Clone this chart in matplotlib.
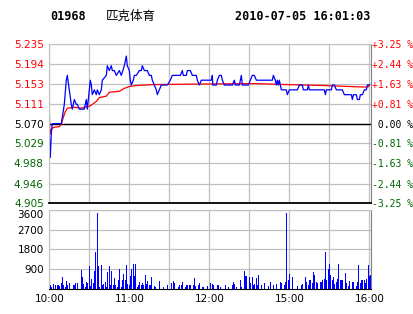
import matplotlib
matplotlib.use('Agg')
import matplotlib.pyplot as plt

# title info
code = '01968'
name = '匹克体育'
stamp = '2010-07-05 16:01:03'

# price axis: previous close 5.070, +/- 3.25 %
price_ticks = [4.905, 4.946, 4.988, 5.029, 5.070, 5.111, 5.153, 5.194, 5.235]
price_labels = ['4.905', '4.946', '4.988', '5.029', '5.070', '5.111', '5.153', '5.194', '5.235']
pct_labels = ['-3.25 %', '-2.44 %', '-1.63 %', '-0.81 %', ' 0.00 %', '+0.81 %', '+1.63 %', '+2.44 %', '+3.25 %']
prev_close = 5.070

# minutes since 10:00 (trading time only, lunch break removed)
time_ticks = [0, 60, 120, 180, 240]
time_labels = ['10:00', '11:00', '12:00', '15:00', '16:00']
grid_minutes = [0, 30, 60, 90, 120, 150, 180, 210, 240]

vol_ticks = [900, 1800, 2700, 3600]
vol_labels = ['900', '1800', '2700', '3600']

# price line (minute, price)
price_min = [0, 0.75, 1.5, 2.25, 9, 11.25, 12.75, 13.5, 15, 16.5, 17.25, 18.75, 20.25, 21, 22.5,
             26.25, 27.75, 28.5, 30.75, 31.5, 32.25, 33.75, 35.25, 36, 37.5, 39, 39.75, 42.75,
             43.5, 45, 46.5, 47.25, 48.75, 50.25, 52.5, 54, 56.25, 57.75, 58.5, 60, 60.75, 61.5,
             63, 63.75, 65.25, 67.5, 69, 69.75, 71.25, 72.75, 73.5, 75, 76.5, 77.25, 78.75, 80.25,
             81, 82.5, 84, 88.5, 90.75, 92.25, 93.75, 95.25, 96.75, 98.25, 99.75, 100.5, 102.75,
             103.5, 105.75, 107.25, 108.75, 110.25, 111, 112.5, 114, 121.5, 122.25, 122.6, 125.25,
             126, 127.5, 129, 129.75, 131.25, 137.25, 138.75, 139.5, 142.5, 144, 144.75, 149.25,
             150.75, 152.25, 153.75, 155.25, 167.25, 168, 169.5, 170.25, 171, 171.75, 172.5, 174,
             174.75, 177.75, 178.5, 180, 186, 187.5, 189, 189.75, 190.5, 193.5, 194.25, 195,
             206.25, 207, 207.75, 211.5, 212.25, 213.75, 215.25, 219.75, 221.25, 226.5, 227.25,
             228, 230.25, 231, 232.5, 233.25, 234.75, 236.25, 237.75, 238.5, 240]
price = [5.05, 5.00, 5.05, 5.07, 5.07, 5.11, 5.16, 5.17, 5.14, 5.11, 5.10, 5.12, 5.11, 5.11, 5.10,
         5.10, 5.12, 5.10, 5.16, 5.15, 5.13, 5.14, 5.13, 5.14, 5.13, 5.14, 5.16, 5.17,
         5.19, 5.18, 5.19, 5.18, 5.18, 5.17, 5.18, 5.17, 5.19, 5.21, 5.19, 5.18, 5.16, 5.15,
         5.16, 5.17, 5.17, 5.18, 5.18, 5.19, 5.18, 5.18, 5.18, 5.17, 5.17, 5.16, 5.15, 5.14,
         5.13, 5.14, 5.15, 5.15, 5.16, 5.17, 5.17, 5.17, 5.17, 5.17, 5.18, 5.17, 5.17,
         5.18, 5.18, 5.17, 5.17, 5.17, 5.16, 5.15, 5.16, 5.16, 5.17, 5.15, 5.15,
         5.16, 5.17, 5.17, 5.16, 5.15, 5.15, 5.16, 5.15, 5.15, 5.17, 5.15, 5.15,
         5.16, 5.17, 5.17, 5.16, 5.16, 5.17, 5.16, 5.15, 5.16, 5.15, 5.16, 5.14,
         5.14, 5.14, 5.13, 5.14, 5.14, 5.15, 5.15, 5.15, 5.14, 5.14, 5.15, 5.14,
         5.14, 5.13, 5.14, 5.14, 5.15, 5.15, 5.14, 5.14, 5.13, 5.13, 5.12,
         5.13, 5.13, 5.12, 5.12, 5.13, 5.13, 5.14, 5.14, 5.15, 5.15]

# average price line (minute, price)
avg_min = [0, 0.5, 1.5, 3, 7.5, 9, 10.5, 12, 13.5, 18.75, 24, 26.25, 30, 32.25, 35.25, 37.5,
           42.75, 45, 52.5, 56.25, 60, 65.25, 78.75, 112, 154, 177, 206, 234, 239, 240]
avg_price = [5.093, 5.048, 5.058, 5.062, 5.064, 5.069, 5.083, 5.095, 5.102, 5.104, 5.102, 5.104,
             5.106, 5.110, 5.116, 5.124, 5.127, 5.135, 5.137, 5.143, 5.147, 5.149, 5.151, 5.152,
             5.153, 5.151, 5.149, 5.146, 5.146, 5.151]

# volume per minute
vol_min = [0, 1, 2, 3, 5, 6, 7, 8, 9, 10, 11, 12, 13, 14, 15, 18, 19, 20, 21, 24, 25, 26, 27, 28,
           29, 30, 31, 32, 33, 34, 35, 36, 37, 38, 39, 40, 41, 42, 43, 44, 45, 46, 47, 48, 49, 50,
           51, 52, 53, 54, 55, 56, 57, 58, 59, 60, 61, 62, 63, 64, 65, 66, 67, 68, 69, 70, 71, 72,
           73, 74, 75, 76, 77, 79, 80, 83, 86, 89, 92, 93, 94, 97, 98, 99, 100, 102, 103, 104, 105,
           106, 108, 109, 110, 112, 113, 115, 116, 119, 121, 122, 123, 126, 127, 128, 132, 134,
           137, 138, 139, 140, 143, 144, 146, 147, 148, 150, 151, 152, 153, 154, 155, 156, 157,
           159, 161, 164, 166, 168, 170, 173, 174, 176, 177, 178, 179, 180, 182, 186, 189, 190,
           192, 193, 194, 195, 196, 197, 198, 199, 200, 201, 203, 204, 205, 206, 207, 208, 209,
           210, 211, 212, 213, 214, 215, 216, 217, 218, 219, 220, 222, 223, 224, 225, 227, 228,
           230, 231, 232, 233, 234, 235, 236, 237, 238, 239, 240, 241]
volume = [90, 140, 60, 210, 140, 170, 140, 110, 260, 550, 140, 60, 350, 140, 260, 140, 170, 240, 260,
          870, 520, 210, 60, 320, 260, 1050, 110, 440, 260, 800, 1690, 3440, 1050, 60, 1100, 170,
          200, 290, 60, 750, 1050, 170, 800, 140, 470, 140, 60, 370, 900, 60, 410, 670, 410, 1100,
          210, 140, 560, 900, 1140, 560, 1140, 90, 140, 320, 170, 260, 170, 600, 210, 350, 140, 170,
          550, 110, 60, 350, 90, 180, 260, 350, 240, 90, 140, 180, 320, 90, 180, 180, 140, 170,
          180, 500, 110, 180, 260, 90, 90, 110, 270, 200, 170, 180, 140, 90, 180, 90, 180, 320,
          210, 90, 380, 90, 780, 560, 560, 550, 260, 520, 140, 200, 470, 140, 600, 140, 230, 100,
          300, 150, 200, 300, 230, 150, 300, 3450, 380, 650, 530, 100, 150, 200, 530, 300, 150,
          410, 380, 230, 760, 610, 300, 230, 300, 300, 380, 450, 1670, 380, 880, 1140, 610, 410,
          530, 200, 300, 450, 1110, 380, 410, 380, 710, 230, 100, 350, 300, 300, 100, 300, 1060,
          250, 380, 410, 380, 230, 450, 1060, 560, 600]

red = '#ff0000'
green = '#006600'
grid_col = '#c0c0c0'

fig = plt.figure(figsize=(4.14, 3.14), dpi=100)
fig.patch.set_facecolor('white')

W, H = 414, 314
x0, x1 = 49.3, 371.5

# ---- price panel
ax = fig.add_axes([x0 / W, (H - 203.3) / H, (x1 - x0) / W, (203.3 - 44) / H])
ax.set_xlim(0, 241.6)
ax.set_ylim(price_ticks[0], price_ticks[-1])
ax.set_xticks(grid_minutes)
ax.set_xticklabels([])
ax.set_yticks(price_ticks)
ax.set_yticklabels(price_labels, fontsize=7.5)
ax.grid(True, color=grid_col, lw=0.9)
ax.set_axisbelow(True)
ax.tick_params(length=0, pad=4)
for t, v in zip(ax.get_yticklabels(), price_ticks):
    t.set_color(red if v > prev_close + 1e-6 else (green if v < prev_close - 1e-6 else 'black'))
ax.axhline(prev_close, color='black', lw=1.0)
ax.plot(avg_min, avg_price, color=red, lw=0.9)
ax.plot(price_min, price, color='#0000ff', lw=0.9)
for s in ['top', 'left']:
    ax.spines[s].set_color(grid_col)
ax.spines['right'].set_color('#808080')
ax.spines['bottom'].set_color('black')
ax.spines['bottom'].set_linewidth(1.3)

ax2 = ax.twinx()
ax2.set_ylim(price_ticks[0], price_ticks[-1])
ax2.set_yticks(price_ticks)
ax2.set_yticklabels(pct_labels, fontsize=7.0, family='DejaVu Sans Mono')
ax2.tick_params(length=0, pad=0.5)
for t, v in zip(ax2.get_yticklabels(), price_ticks):
    t.set_color(red if v > prev_close + 1e-6 else (green if v < prev_close - 1e-6 else 'black'))
for s in ax2.spines.values():
    s.set_visible(False)

# ---- volume panel
axv = fig.add_axes([x0 / W, (H - 288.5) / H, (x1 - x0) / W, (288.5 - 210) / H])
axv.set_xlim(0, 241.6)
axv.set_ylim(0, 3600)
axv.bar(vol_min, volume, width=0.75, color='#0000ff', align='center')
axv.set_xticks(grid_minutes)
axv.set_xticklabels(['' if m not in time_ticks else time_labels[time_ticks.index(m)] for m in grid_minutes],
                    fontsize=7.5)
axv.set_yticks(vol_ticks)
axv.set_yticklabels(vol_labels, fontsize=7.5)
axv.grid(True, color=grid_col, lw=0.9)
axv.set_axisbelow(True)
axv.tick_params(length=0, pad=4)
axv.get_yticklabels()[-1].set_va('top')
for s in ['top', 'left']:
    axv.spines[s].set_color(grid_col)
axv.spines['right'].set_color('#808080')
axv.spines['bottom'].set_color('black')

# ---- header
fig.text(50 / W, 1 - 16 / H, code, fontsize=8.5, family='DejaVu Sans Mono', weight='bold', va='center')
fig.text(106 / W, 1 - 16 / H, name, fontsize=9, family=['Noto Sans CJK SC', 'DejaVu Sans'], va='center')
fig.text(370 / W, 1 - 16 / H, stamp, fontsize=8.5, family='DejaVu Sans Mono', weight='bold',
         va='center', ha='right')

fig.savefig('out.png', dpi=100)
